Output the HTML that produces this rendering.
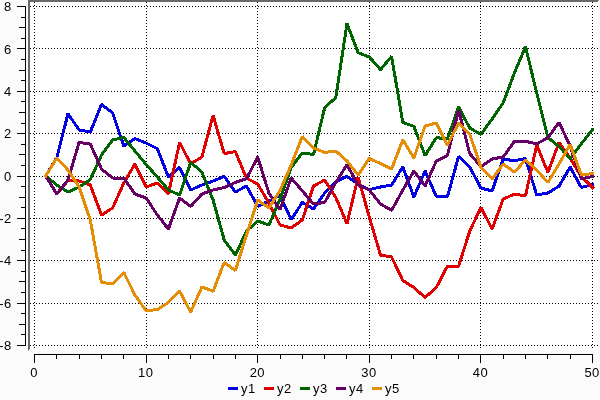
<!DOCTYPE html>
<html><head><meta charset="utf-8"><title>plot</title>
<style>
html,body{margin:0;padding:0;}
body{width:600px;height:400px;background:#fbfbfb;overflow:hidden;font-family:"Liberation Sans",sans-serif;}
svg{display:block;will-change:transform;}
text{font-family:"Liberation Sans",sans-serif;font-size:13px;fill:#000;letter-spacing:0.4px;}
</style></head><body>
<svg width="600" height="400" viewBox="0 0 600 400">
<rect x="0" y="0" width="600" height="400" fill="#fbfbfb"/>

<rect x="28" y="0" width="572" height="351" fill="#ffffff"/>
<polygon points="28,0 599,0 597.5,2 30,2 30,349 28,351" fill="#6a6765"/>
<g stroke="#000" stroke-width="1" stroke-dasharray="1 2" shape-rendering="crispEdges"><line x1="34.5" y1="2" x2="34.5" y2="348" /><line x1="146.5" y1="2" x2="146.5" y2="348" /><line x1="257.5" y1="2" x2="257.5" y2="348" /><line x1="369.5" y1="2" x2="369.5" y2="348" /><line x1="480.5" y1="2" x2="480.5" y2="348" /><line x1="592.5" y1="2" x2="592.5" y2="348" /><line x1="30" y1="6.5" x2="598" y2="6.5" /><line x1="30" y1="48.5" x2="598" y2="48.5" /><line x1="30" y1="91.5" x2="598" y2="91.5" /><line x1="30" y1="133.5" x2="598" y2="133.5" /><line x1="30" y1="176.5" x2="598" y2="176.5" /><line x1="30" y1="218.5" x2="598" y2="218.5" /><line x1="30" y1="260.5" x2="598" y2="260.5" /><line x1="30" y1="303.5" x2="598" y2="303.5" /><line x1="30" y1="345.5" x2="598" y2="345.5" /></g>
<svg x="30" y="2" width="568" height="347" viewBox="30 2 568 347" overflow="hidden"><g shape-rendering="crispEdges">
<polyline points="45.7,176.0 56.8,157.6 68.0,113.6 79.1,130.0 90.3,132.0 101.5,104.4 112.6,113.0 123.8,146.0 134.9,138.6 146.1,143.0 157.3,148.6 168.4,177.0 179.6,167.3 190.7,190.0 201.9,185.0 213.1,181.0 224.2,176.4 235.4,192.0 246.5,186.0 257.7,206.4 268.9,201.0 280.0,195.5 291.2,219.6 302.3,202.4 313.5,209.0 324.7,193.0 335.8,182.0 347.0,176.4 358.1,184.0 369.3,189.6 380.5,187.0 391.6,185.0 402.8,167.0 413.9,197.0 425.1,171.0 436.3,196.4 447.4,196.8 458.6,156.4 469.7,167.0 480.9,188.0 492.1,191.0 503.2,159.0 514.4,160.8 525.5,158.5 536.7,195.0 547.9,193.0 559.0,186.2 570.2,167.0 581.3,187.5 592.5,184.5" fill="none" stroke="#0000e0" stroke-width="3" stroke-linejoin="bevel" stroke-linecap="square"/>
<polyline points="45.7,176.0 56.8,194.0 68.0,180.5 79.1,181.0 90.3,185.0 101.5,215.0 112.6,208.0 123.8,183.0 134.9,164.0 146.1,187.0 157.3,183.0 168.4,194.0 179.6,142.4 190.7,164.0 201.9,157.0 213.1,115.5 224.2,153.6 235.4,151.6 246.5,178.2 257.7,184.0 268.9,203.0 280.0,225.0 291.2,228.0 302.3,220.0 313.5,186.0 324.7,180.0 335.8,197.5 347.0,223.8 358.1,177.0 369.3,217.0 380.5,255.0 391.6,257.0 402.8,280.5 413.9,287.5 425.1,297.5 436.3,287.5 447.4,266.2 458.6,266.2 469.7,231.2 480.9,207.3 492.1,229.0 503.2,199.0 514.4,194.2 525.5,195.7 536.7,145.0 547.9,172.3 559.0,142.5 570.2,158.5 581.3,176.5 592.5,187.5" fill="none" stroke="#e00000" stroke-width="3" stroke-linejoin="bevel" stroke-linecap="square"/>
<polyline points="45.7,176.0 56.8,185.0 68.0,192.0 79.1,187.0 90.3,179.6 101.5,155.0 112.6,140.0 123.8,137.4 134.9,151.0 146.1,164.4 157.3,177.0 168.4,190.0 179.6,195.0 190.7,162.4 201.9,172.0 213.1,200.0 224.2,240.0 235.4,255.0 246.5,231.0 257.7,221.0 268.9,225.0 280.0,199.5 291.2,167.5 302.3,153.0 313.5,154.5 324.7,107.6 335.8,97.6 347.0,23.6 358.1,52.6 369.3,57.0 380.5,69.6 391.6,56.4 402.8,122.4 413.9,126.4 425.1,155.6 436.3,137.6 447.4,139.0 458.6,107.0 469.7,128.0 480.9,134.4 492.1,119.0 503.2,102.8 514.4,73.0 525.5,46.5 536.7,93.0 547.9,137.5 559.0,146.5 570.2,158.8 581.3,143.8 592.5,129.5" fill="none" stroke="#006400" stroke-width="3" stroke-linejoin="bevel" stroke-linecap="square"/>
<polyline points="45.7,176.0 56.8,194.0 68.0,180.0 79.1,142.4 90.3,144.0 101.5,169.0 112.6,178.0 123.8,178.0 134.9,194.0 146.1,198.0 157.3,215.0 168.4,229.0 179.6,198.0 190.7,206.4 201.9,194.0 213.1,190.0 224.2,187.5 235.4,182.4 246.5,178.7 257.7,157.0 268.9,193.0 280.0,209.5 291.2,178.0 302.3,190.8 313.5,204.0 324.7,202.4 335.8,182.5 347.0,164.7 358.1,185.0 369.3,190.0 380.5,204.0 391.6,210.4 402.8,190.0 413.9,171.0 425.1,186.0 436.3,161.0 447.4,155.5 458.6,110.0 469.7,153.5 480.9,166.6 492.1,159.0 503.2,157.0 514.4,141.3 525.5,141.3 536.7,143.9 547.9,137.7 559.0,122.5 570.2,146.0 581.3,178.8 592.5,176.5" fill="none" stroke="#660066" stroke-width="3" stroke-linejoin="bevel" stroke-linecap="square"/>
<polyline points="45.7,176.0 56.8,158.0 68.0,170.0 79.1,187.0 90.3,220.0 101.5,282.4 112.6,284.0 123.8,272.4 134.9,295.0 146.1,310.8 157.3,309.5 168.4,302.5 179.6,291.2 190.7,312.0 201.9,287.0 213.1,291.2 224.2,262.5 235.4,270.5 246.5,235.0 257.7,200.0 268.9,208.0 280.0,190.5 291.2,165.0 302.3,136.4 313.5,148.0 324.7,152.4 335.8,151.0 347.0,161.0 358.1,175.0 369.3,158.4 380.5,163.6 391.6,169.0 402.8,139.8 413.9,158.0 425.1,126.0 436.3,123.0 447.4,145.3 458.6,123.0 469.7,134.0 480.9,167.0 492.1,179.0 503.2,164.0 514.4,172.2 525.5,160.0 536.7,170.0 547.9,182.5 559.0,164.0 570.2,144.5 581.3,175.0 592.5,173.5" fill="none" stroke="#e58d05" stroke-width="3" stroke-linejoin="bevel" stroke-linecap="square"/>
</g></svg>
<g stroke="#000" stroke-width="1" shape-rendering="crispEdges"><line x1="25.5" y1="6" x2="25.5" y2="346"/><line x1="17" y1="6.5" x2="26" y2="6.5"/><line x1="21" y1="17.5" x2="26" y2="17.5"/><line x1="19" y1="27.5" x2="26" y2="27.5"/><line x1="21" y1="38.5" x2="26" y2="38.5"/><line x1="17" y1="48.5" x2="26" y2="48.5"/><line x1="21" y1="59.5" x2="26" y2="59.5"/><line x1="19" y1="70.5" x2="26" y2="70.5"/><line x1="21" y1="80.5" x2="26" y2="80.5"/><line x1="17" y1="91.5" x2="26" y2="91.5"/><line x1="21" y1="101.5" x2="26" y2="101.5"/><line x1="19" y1="112.5" x2="26" y2="112.5"/><line x1="21" y1="123.5" x2="26" y2="123.5"/><line x1="17" y1="133.5" x2="26" y2="133.5"/><line x1="21" y1="144.5" x2="26" y2="144.5"/><line x1="19" y1="154.5" x2="26" y2="154.5"/><line x1="21" y1="165.5" x2="26" y2="165.5"/><line x1="17" y1="176.5" x2="26" y2="176.5"/><line x1="21" y1="186.5" x2="26" y2="186.5"/><line x1="19" y1="197.5" x2="26" y2="197.5"/><line x1="21" y1="207.5" x2="26" y2="207.5"/><line x1="17" y1="218.5" x2="26" y2="218.5"/><line x1="21" y1="228.5" x2="26" y2="228.5"/><line x1="19" y1="239.5" x2="26" y2="239.5"/><line x1="21" y1="250.5" x2="26" y2="250.5"/><line x1="17" y1="260.5" x2="26" y2="260.5"/><line x1="21" y1="271.5" x2="26" y2="271.5"/><line x1="19" y1="281.5" x2="26" y2="281.5"/><line x1="21" y1="292.5" x2="26" y2="292.5"/><line x1="17" y1="303.5" x2="26" y2="303.5"/><line x1="21" y1="313.5" x2="26" y2="313.5"/><line x1="19" y1="324.5" x2="26" y2="324.5"/><line x1="21" y1="334.5" x2="26" y2="334.5"/><line x1="17" y1="345.5" x2="26" y2="345.5"/><line x1="34" y1="354.5" x2="593" y2="354.5"/><line x1="34.5" y1="354" x2="34.5" y2="363"/><line x1="56.5" y1="354" x2="56.5" y2="359"/><line x1="79.5" y1="354" x2="79.5" y2="359"/><line x1="101.5" y1="354" x2="101.5" y2="359"/><line x1="123.5" y1="354" x2="123.5" y2="359"/><line x1="146.5" y1="354" x2="146.5" y2="363"/><line x1="168.5" y1="354" x2="168.5" y2="359"/><line x1="190.5" y1="354" x2="190.5" y2="359"/><line x1="213.5" y1="354" x2="213.5" y2="359"/><line x1="235.5" y1="354" x2="235.5" y2="359"/><line x1="257.5" y1="354" x2="257.5" y2="363"/><line x1="280.5" y1="354" x2="280.5" y2="359"/><line x1="302.5" y1="354" x2="302.5" y2="359"/><line x1="324.5" y1="354" x2="324.5" y2="359"/><line x1="346.5" y1="354" x2="346.5" y2="359"/><line x1="369.5" y1="354" x2="369.5" y2="363"/><line x1="391.5" y1="354" x2="391.5" y2="359"/><line x1="413.5" y1="354" x2="413.5" y2="359"/><line x1="436.5" y1="354" x2="436.5" y2="359"/><line x1="458.5" y1="354" x2="458.5" y2="359"/><line x1="480.5" y1="354" x2="480.5" y2="363"/><line x1="503.5" y1="354" x2="503.5" y2="359"/><line x1="525.5" y1="354" x2="525.5" y2="359"/><line x1="547.5" y1="354" x2="547.5" y2="359"/><line x1="570.5" y1="354" x2="570.5" y2="359"/><line x1="592.5" y1="354" x2="592.5" y2="363"/></g>
<text x="11.7" y="11.1" text-anchor="end">8</text>
<text x="11.7" y="53.5" text-anchor="end">6</text>
<text x="11.7" y="95.8" text-anchor="end">4</text>
<text x="11.7" y="138.2" text-anchor="end">2</text>
<text x="11.7" y="180.6" text-anchor="end">0</text>
<text x="11.7" y="223.0" text-anchor="end">-2</text>
<text x="11.7" y="265.4" text-anchor="end">-4</text>
<text x="11.7" y="307.7" text-anchor="end">-6</text>
<text x="11.7" y="350.1" text-anchor="end">-8</text>
<text x="34.1" y="377.3" text-anchor="middle">0</text>
<text x="145.7" y="377.3" text-anchor="middle">10</text>
<text x="257.3" y="377.3" text-anchor="middle">20</text>
<text x="368.9" y="377.3" text-anchor="middle">30</text>
<text x="480.5" y="377.3" text-anchor="middle">40</text>
<text x="592.1" y="377.3" text-anchor="middle">50</text>
<rect x="228" y="387" width="10" height="3" fill="#0000e0"/>
<text x="241" y="393">y1</text>
<rect x="264" y="387" width="10" height="3" fill="#e00000"/>
<text x="277" y="393">y2</text>
<rect x="300" y="387" width="10" height="3" fill="#006400"/>
<text x="313" y="393">y3</text>
<rect x="336" y="387" width="10" height="3" fill="#660066"/>
<text x="349" y="393">y4</text>
<rect x="372" y="387" width="10" height="3" fill="#e58d05"/>
<text x="385" y="393">y5</text>
</svg></body></html>
